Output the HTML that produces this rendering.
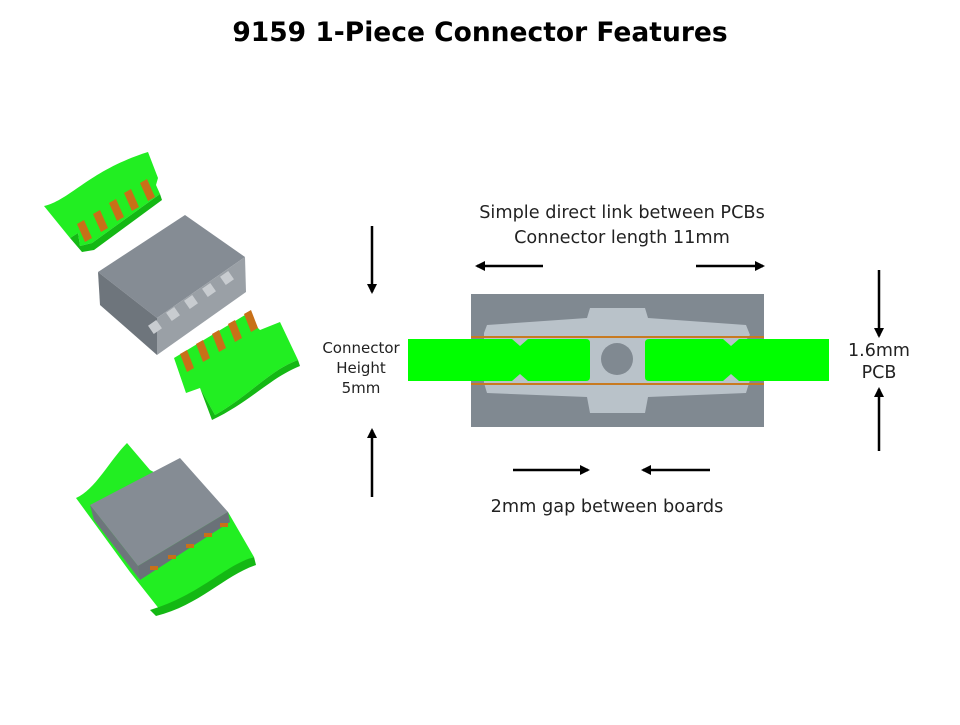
<!DOCTYPE html>
<html><head><style>
body{margin:0;background:#fff;width:960px;height:720px;overflow:hidden;font-family:"Liberation Sans",sans-serif}
</style></head><body>
<svg width="960" height="720" viewBox="0 0 960 720" xmlns="http://www.w3.org/2000/svg">
<text x="480" y="41" text-anchor="middle" font-family="DejaVu Sans, Liberation Sans, sans-serif" font-weight="bold" font-size="26.5" fill="#000">9159 1-Piece Connector Features</text>
<defs><marker id="a" markerWidth="10" markerHeight="10" refX="8" refY="5" orient="auto" markerUnits="userSpaceOnUse"><path d="M0,0 L10,5 L0,10 z" fill="#000"/></marker></defs>

<!-- top left PCB -->
<path d="M44,206 C70,200 90,170 148,152 L158,178 L156,185 L160,194 L92,243 L80,246 L78,233 L70,238 Z" fill="#22ee22"/>
<path d="M70,238 L78,233 L80,246 L92,243 L160,194 L162,200 L94,250 L82,252 Z" fill="#14b814"/>
<g fill="#c87018"><polygon points="77,224 84,220 92,238 85,242"/><polygon points="93,214 100,210 108,228 101,232"/><polygon points="109,203 116,199 124,217 117,221"/><polygon points="124,193 131,189 139,207 132,211"/><polygon points="140,183 147,179 155,197 148,201"/></g>
<!-- connector body -->
<polygon points="98,272 185,215 245,257 157,318" fill="#858c94"/>
<polygon points="98,272 157,318 157,355 100,305" fill="#6e757c"/>
<polygon points="157,318 245,257 246,292 157,355" fill="#9aa0a6"/>
<g fill="#c8ccd0"><rect x="150" y="322" width="10" height="10" transform="rotate(-35 155 327)"/><rect x="168" y="309" width="10" height="10" transform="rotate(-35 173 314)"/><rect x="186" y="297" width="10" height="10" transform="rotate(-35 191 302)"/><rect x="204" y="285" width="10" height="10" transform="rotate(-35 209 290)"/><rect x="222" y="273" width="10" height="10" transform="rotate(-35 227 278)"/></g>
<!-- middle PCB -->
<path d="M174,358 L245,315 L260,330 L280,322 L298,360 C270,370 250,395 215,415 L200,388 L186,393 Z" fill="#22ee22"/>
<path d="M200,388 L215,415 C250,395 270,370 298,360 L300,366 C270,378 250,402 212,420 Z" fill="#14b814"/>
<g fill="#c87018"><polygon points="180,354 187,350 194,368 187,372"/><polygon points="196,344 203,340 210,358 203,362"/><polygon points="212,334 219,330 226,348 219,352"/><polygon points="228,324 235,320 242,338 235,342"/><polygon points="244,314 251,310 258,328 251,332"/></g>
<!-- bottom assembled -->
<path d="M76,498 C95,490 110,460 127,443 L150,470 L228,512 L254,557 C230,565 205,590 160,610 L130,572 Z" fill="#22ee22"/>
<path d="M150,610 C200,595 225,565 254,557 L256,565 C225,575 200,605 156,616 Z" fill="#14b814"/>
<polygon points="90,505 180,458 228,512 138,566" fill="#858c94"/>
<polygon points="90,505 138,566 140,580 94,520" fill="#6e757c"/>
<polygon points="138,566 228,512 230,522 140,580" fill="#6a7178"/>
<g fill="#c87018"><rect x="150" y="566" width="8" height="4"/><rect x="168" y="555" width="8" height="4"/><rect x="186" y="544" width="8" height="4"/><rect x="204" y="533" width="8" height="4"/><rect x="220" y="523" width="8" height="4"/></g>

<!-- cross section -->
<rect x="471" y="294" width="293" height="133" fill="#808991"/>
<path d="M487,325 L587,318 L590,308 L645,308 L648,318 L746,325 L750,335 L746,340 L750,380 L746,393 L648,397 L645,413 L590,413 L587,397 L487,393 L484,383 L484,333 Z" fill="#b9c2c9"/>
<rect x="471" y="336" width="293" height="2" fill="#c87a20"/>
<rect x="471" y="383" width="293" height="2" fill="#c87a20"/>
<path d="M408,339 L512,339 L520,346 L528,339 L586,339 Q590,339 590,343 L590,377 Q590,381 586,381 L528,381 L520,374 L512,381 L408,381 Z" fill="#00ff00"/>
<path d="M649,339 L723,339 L731,346 L739,339 L829,339 L829,381 L739,381 L731,374 L723,381 L649,381 Q645,381 645,377 L645,343 Q645,339 649,339 Z" fill="#00ff00"/>
<circle cx="617" cy="359" r="16" fill="#808991"/>

<g font-family="DejaVu Sans, Liberation Sans, sans-serif" fill="#222">
<text x="622" y="218" text-anchor="middle" font-size="17.7">Simple direct link between PCBs</text>
<text x="622" y="243" text-anchor="middle" font-size="17.7">Connector length 11mm</text>
<text x="361" y="353" text-anchor="middle" font-size="15">Connector</text>
<text x="361" y="373" text-anchor="middle" font-size="15">Height</text>
<text x="361" y="393" text-anchor="middle" font-size="15">5mm</text>
<text x="879" y="356" text-anchor="middle" font-size="17.5">1.6mm</text>
<text x="879" y="378" text-anchor="middle" font-size="17.5">PCB</text>
<text x="607" y="512" text-anchor="middle" font-size="17.7">2mm gap between boards</text>
</g>
<g stroke="#000" stroke-width="2.5" marker-end="url(#a)">
<line x1="543" y1="266" x2="477" y2="266"/>
<line x1="696" y1="266" x2="763" y2="266"/>
<line x1="372" y1="226" x2="372" y2="292"/>
<line x1="372" y1="497" x2="372" y2="430"/>
<line x1="879" y1="270" x2="879" y2="336"/>
<line x1="879" y1="451" x2="879" y2="389"/>
<line x1="513" y1="470" x2="588" y2="470"/>
<line x1="710" y1="470" x2="643" y2="470"/>
</g>
</svg>
</body></html>
